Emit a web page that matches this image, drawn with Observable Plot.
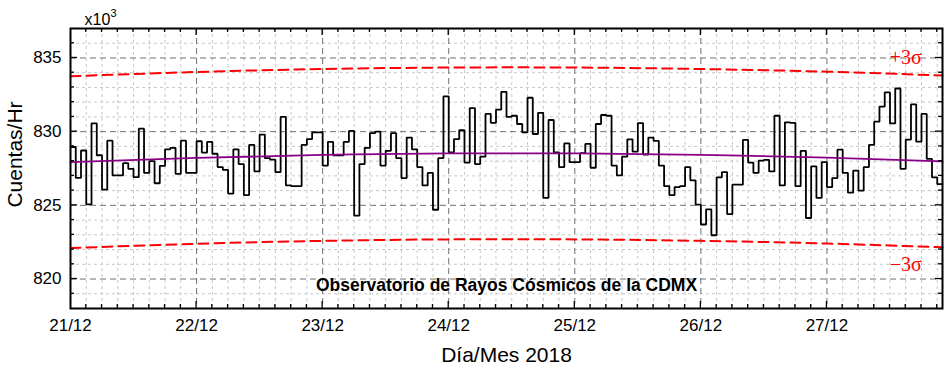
<!DOCTYPE html>
<html>
<head>
<meta charset="utf-8">
<script src="https://cdn.jsdelivr.net/npm/d3@7"></script>
<script src="https://cdn.jsdelivr.net/npm/@observablehq/plot@0.6"></script>
<style>
  body { margin: 0; background: #fff; }
  #chart svg { display: block; }
</style>
</head>
<body>
<div id="chart"></div>
<script>
// Hourly counts (x10^3), starting 21/12/2018 00:00
const counts = [
  828.96, 826.87, 828.72, 825.07, 830.56, 828.40, 826.06, 829.39, 827.03, 827.03, 827.86, 827.48, 826.91, 830.20,
  827.20, 828.00, 826.50, 827.68, 828.80, 828.90, 827.14, 829.39, 827.20, 827.20, 829.35, 828.58, 829.30, 828.50,
  827.60, 827.40, 825.80, 828.80, 827.80, 825.70, 829.10, 827.30, 829.80, 828.20, 828.10, 827.25, 831.00, 826.35,
  826.30, 826.30, 829.10, 829.50, 829.95, 829.95, 827.70, 829.30, 828.40, 828.40, 829.30, 830.05, 824.30, 827.80,
  828.90, 829.90, 830.00, 827.70, 828.70, 829.90, 828.20, 826.85, 829.60, 828.80, 827.60, 826.35, 827.20, 824.70,
  828.20, 832.40, 828.60, 829.50, 830.10, 827.90, 831.60, 827.80, 828.30, 831.20, 830.60, 831.50, 832.70, 831.00,
  831.08, 830.52, 829.95, 832.30, 829.84, 831.28, 825.50, 830.79, 828.60, 827.60, 829.20, 827.93, 827.93, 828.54,
  829.17, 827.55, 830.52, 831.13, 831.08, 827.70, 827.03, 828.30, 829.48, 828.65, 830.58, 828.45, 829.60, 829.37,
  827.70, 826.30, 825.70, 826.24, 826.30, 827.60, 826.70, 825.05, 823.70, 824.73, 822.97, 826.90, 827.25, 824.40,
  826.40, 826.40, 829.44, 827.90, 827.20, 828.04, 828.09, 827.30, 831.08, 826.35, 830.63, 830.60, 826.30, 828.70,
  824.14, 827.64, 825.50, 827.93, 826.24, 826.85, 828.78, 827.20, 825.86, 827.36, 826.00, 827.60, 829.10, 830.68,
  831.70, 832.66, 830.56, 832.93, 827.48, 829.46, 831.85, 829.32, 831.20, 828.15, 826.90, 826.44
];

// Fitted mean and +/-3 sigma bands, read at these hours
const fitHours = [0, 24, 48, 72, 96, 120, 144, 166];
const fitMean  = [827.93, 828.22, 828.42, 828.52, 828.52, 828.42, 828.24, 827.98];
const fitUpper = [833.76, 834.05, 834.25, 834.35, 834.35, 834.25, 834.07, 833.81];
const fitLower = [822.10, 822.39, 822.59, 822.69, 822.69, 822.59, 822.41, 822.15];

// Axis ticks & labels
const dayTicks  = [0, 24, 48, 72, 96, 120, 144];
const dayLabels = ["21/12", "22/12", "23/12", "24/12", "25/12", "26/12", "27/12"];
const yTicks    = [820, 825, 830, 835];
const xDomain   = [0, 166];
const yDomain   = [818, 837];

// Annotations
const sigmaText  = ["+3\u03c3", "\u22123\u03c3"];
const sigmaHour  = [159, 159];
const sigmaValue = [835.0, 820.95];

const series = counts.map((v, i) => ({h: i, v}));
series.push({h: counts.length, v: counts[counts.length - 1]}); // close last step
const fit = fitHours.map((h, i) => ({h, m: fitMean[i], u: fitUpper[i], l: fitLower[i]}));
const sigmaAnn = sigmaText.map((t, i) => ({t, h: sigmaHour[i], v: sigmaValue[i]}));

const minorX = d3.range(3, 166, 3).filter(h => h % 24 !== 0);
const majorX = dayTicks.filter(h => h > 0);
const minorY = d3.range(819, 837, 1).filter(v => v % 5 !== 0);

const FONT = "'Liberation Sans', Arial, sans-serif";

const chart = Plot.plot({
  width: 952,
  height: 373,
  marginLeft: 70,
  marginRight: 10,
  marginTop: 28,
  marginBottom: 65,
  style: {fontFamily: FONT, background: "#fff", overflow: "visible"},
  x: {domain: xDomain, axis: null},
  y: {domain: yDomain, axis: null},
  marks: [
    Plot.ruleX(minorX, {stroke: "#c8c8c8", strokeDasharray: "3,3", strokeWidth: 1}),
    Plot.ruleY(minorY, {stroke: "#c8c8c8", strokeDasharray: "3,3", strokeWidth: 1}),
    Plot.ruleX(majorX, {stroke: "#707070", strokeDasharray: "6,4", strokeWidth: 1}),
    Plot.ruleY(yTicks, {stroke: "#707070", strokeDasharray: "6,4", strokeWidth: 1}),
    Plot.line(fit, {x: "h", y: "u", curve: "natural", stroke: "#ff0000", strokeWidth: 2, strokeDasharray: "10,6"}),
    Plot.line(fit, {x: "h", y: "l", curve: "natural", stroke: "#ff0000", strokeWidth: 2, strokeDasharray: "10,6"}),
    Plot.line(series, {x: "h", y: "v", curve: "step-after", stroke: "#000", strokeWidth: 1.8, strokeLinejoin: "miter"}),
    Plot.line(fit, {x: "h", y: "m", curve: "natural", stroke: "#880088", strokeWidth: 1.8}),
    Plot.text(sigmaAnn, {x: "h", y: "v", text: "t", fill: "#ff0000", fontSize: 20, textAnchor: "middle",
      fontFamily: "'Liberation Serif', 'Times New Roman', serif", lineAnchor: "middle"}),
    Plot.text(["Observatorio de Rayos Cósmicos de la CDMX"], {frameAnchor: "bottom", dy: -23, lineAnchor: "middle",
      textAnchor: "middle", fontSize: 17.5, fontWeight: "bold", fill: "#000"}),
    // tick labels
    Plot.text(dayTicks, {x: d => d, frameAnchor: "bottom", dy: 17, lineAnchor: "middle", textAnchor: "middle",
      text: (d, i) => dayLabels[i], fontSize: 17, fill: "#000"}),
    Plot.text(yTicks, {y: d => d, frameAnchor: "left", dx: -9, textAnchor: "end", lineAnchor: "middle",
      text: d => String(d), fontSize: 17, fill: "#000"}),
    // axis titles
    Plot.text(["Día/Mes 2018"], {frameAnchor: "bottom", dy: 47, lineAnchor: "middle", textAnchor: "middle",
      fontSize: 21, fill: "#000"}),
    Plot.text(["Cuentas/Hr"], {frameAnchor: "left", dx: -55, dy: -14, rotate: -90, lineAnchor: "middle",
      textAnchor: "middle", fontSize: 21, fill: "#000"}),
    Plot.text(["x10"], {frameAnchor: "top-left", dx: 14, dy: -9, textAnchor: "start", lineAnchor: "middle",
      fontSize: 16, fill: "#000"}),
    Plot.text(["3"], {frameAnchor: "top-left", dx: 40, dy: -15, textAnchor: "start", lineAnchor: "middle",
      fontSize: 11, fill: "#000"}),
    Plot.frame({stroke: "#000", strokeWidth: 2})
  ]
});

document.getElementById("chart").appendChild(chart);

// Inward ticks on all four sides, positioned with the plot's own scales
const svg = chart.tagName.toLowerCase() === "svg" ? chart : chart.querySelector("svg");
const sx = chart.scale("x"), sy = chart.scale("y");
const X = d3.scaleLinear(sx.domain, sx.range);
const Y = d3.scaleLinear(sy.domain, sy.range);
const [xl, xr] = X.range();
const [yb, yt] = Y.range();
const g = d3.select(svg).append("g").attr("stroke", "#000").attr("stroke-width", 1.3);
d3.range(3, 166, 3).forEach(h => {
  const len = h % 24 === 0 ? 7 : 4;
  const x = X(h);
  g.append("line").attr("x1", x).attr("x2", x).attr("y1", yb).attr("y2", yb - len);
  g.append("line").attr("x1", x).attr("x2", x).attr("y1", yt).attr("y2", yt + len);
});
d3.range(819, 837, 1).forEach(v => {
  const len = v % 5 === 0 ? 7 : 4;
  const y = Y(v);
  g.append("line").attr("x1", xl).attr("x2", xl + len).attr("y1", y).attr("y2", y);
  g.append("line").attr("x1", xr).attr("x2", xr - len).attr("y1", y).attr("y2", y);
});
</script>
</body>
</html>
